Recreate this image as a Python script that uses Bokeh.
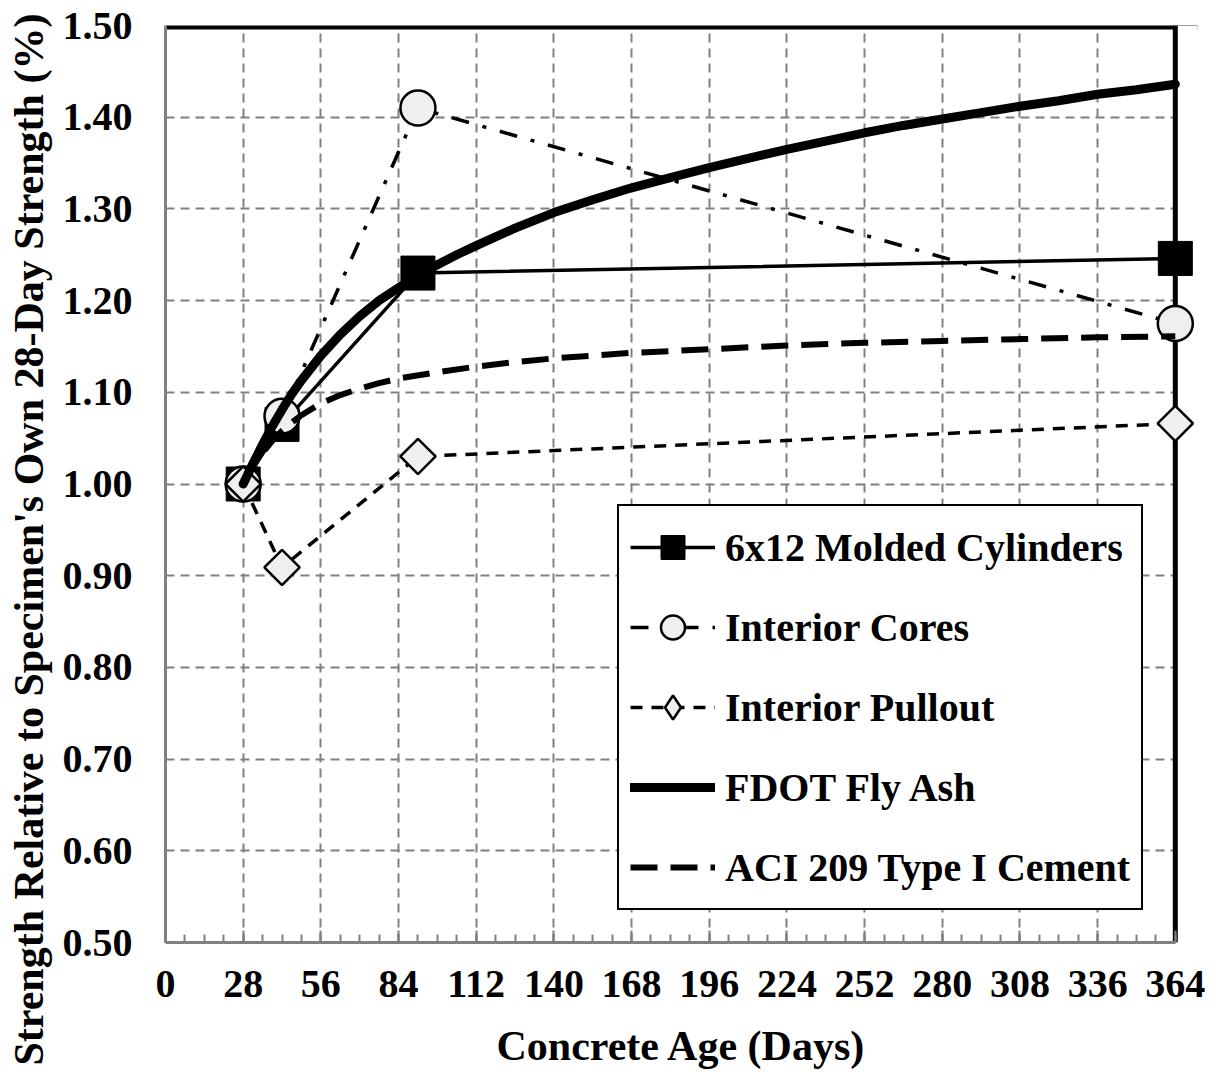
from math import pi
from bokeh.plotting import figure
from bokeh.models import (Range1d, FixedTicker, NumeralTickFormatter, Legend,
                          LegendItem, Span, BoxAnnotation, Title)
from bokeh.embed import file_html
from bokeh.resources import INLINE

# ---- data ----
cyl_days = [28, 42, 91, 364]
cyl_vals = [1.00, 1.065, 1.230, 1.246]

core_days = [28, 42, 91, 364]
core_vals = [1.00, 1.074, 1.410, 1.175]

pull_days = [28, 42, 91, 364]
pull_vals = [1.00, 0.909, 1.030, 1.066]

fdot_days = [28, 31.5, 35, 38.5, 42, 45.5, 49, 56, 63, 70, 77, 84, 91, 98, 105, 112, 126,
             140, 154, 168, 182, 196, 210, 224, 238, 252, 266, 280, 294, 308, 322, 336, 350, 364]
fdot_vals = [1.000, 1.022, 1.043, 1.063, 1.081, 1.098, 1.113, 1.140, 1.163, 1.183, 1.200,
             1.214, 1.227, 1.239, 1.250, 1.260, 1.279, 1.296, 1.310, 1.323, 1.334, 1.345,
             1.355, 1.365, 1.374, 1.383, 1.391, 1.398, 1.405, 1.412, 1.418, 1.425, 1.430, 1.436]

aci_days = [28, 31.5, 35, 38.5, 42, 45.5, 49, 56, 63, 70, 77, 84, 98, 112, 126, 140, 168,
            196, 224, 252, 280, 308, 336, 364]
aci_vals = [1.000, 1.019, 1.034, 1.047, 1.058, 1.067, 1.075, 1.088, 1.097, 1.104, 1.110,
            1.115, 1.122, 1.128, 1.133, 1.137, 1.143, 1.147, 1.151, 1.154, 1.156, 1.158,
            1.160, 1.161]

x_ticks = [0, 28, 56, 84, 112, 140, 168, 196, 224, 252, 280, 308, 336, 364]
x_minor = list(range(0, 365, 7))
y_ticks = [0.50, 0.60, 0.70, 0.80, 0.90, 1.00, 1.10, 1.20, 1.30, 1.40, 1.50]

labels = ["6x12 Molded Cylinders", "Interior Cores", "Interior Pullout",
          "FDOT Fly Ash", "ACI 209 Type I Cement"]
x_title = "Concrete Age (Days)"
y_title = "Strength Relative to Specimen's Own 28-Day Strength (%)"

FONT = "Liberation Serif"
GRID = "#808080"
MFILL = "#efefef"
X_END = 364

# a little room right of day 364 so the last markers are not cut
p = figure(width=1217, height=1078,
           x_range=Range1d(0, 372), y_range=Range1d(0.5, 1.5),
           output_backend="svg", toolbar_location=None,
           min_border_left=165, min_border_right=20,
           min_border_top=25, min_border_bottom=136)
p.outline_line_color = None
p.background_fill_color = "white"
p.border_fill_color = "white"

# x axis
xa = p.xaxis[0]
xa.bounds = (0, X_END)
xa.ticker = FixedTicker(ticks=x_ticks, minor_ticks=x_minor)
xa.axis_line_color = GRID
xa.axis_line_width = 3
xa.major_tick_in = 12
xa.major_tick_out = 0
xa.minor_tick_in = 8
xa.minor_tick_out = 0
xa.major_tick_line_color = GRID
xa.major_tick_line_width = 2
xa.minor_tick_line_color = GRID
xa.minor_tick_line_width = 2
xa.major_label_text_font = FONT
xa.major_label_text_font_style = "bold"
xa.major_label_text_font_size = "40px"
xa.major_label_text_color = "black"
xa.major_label_standoff = 28
xa.axis_label = x_title
xa.axis_label_text_font = FONT
xa.axis_label_text_font_style = "bold"
xa.axis_label_text_font_size = "42px"
xa.axis_label_text_color = "black"
xa.axis_label_standoff = 23

# y axis
ya = p.yaxis[0]
ya.ticker = FixedTicker(ticks=y_ticks, minor_ticks=[])
ya.formatter = NumeralTickFormatter(format="0.00")
ya.axis_line_color = GRID
ya.axis_line_width = 3
ya.major_tick_in = 0
ya.major_tick_out = 0
ya.minor_tick_in = 0
ya.minor_tick_out = 0
ya.major_label_text_font = FONT
ya.major_label_text_font_style = "bold"
ya.major_label_text_font_size = "40px"
ya.major_label_text_color = "black"
ya.major_label_standoff = 33

# grids
for g in (p.xgrid[0], p.ygrid[0]):
    g.grid_line_color = GRID
    g.grid_line_width = 2
    g.grid_line_dash = "9 6"

# top border, white cover right of day 364, then right border
p.add_layout(Span(location=p.y_range.end, dimension="width", line_color="black",
                  line_width=8, level="underlay"))
p.add_layout(BoxAnnotation(left=X_END, fill_color="white", fill_alpha=1.0,
                           line_alpha=0, level="underlay"))
p.add_layout(Span(location=X_END, dimension="height", line_color="black",
                  line_width=5, level="underlay"))

# series lines
l_cyl = p.line(cyl_days, cyl_vals, line_color="black", line_width=3.5)
l_core = p.line(core_days, core_vals, line_color="black", line_width=3.5,
                line_dash="18 14 4 14")
l_pull = p.line(pull_days, pull_vals, line_color="black", line_width=3.5,
                line_dash="12 9")

# markers
s_cyl = p.scatter(cyl_days, cyl_vals, marker="square", size=34,
                  fill_color="black", line_color="black", line_width=1)
s_core = p.scatter(core_days, core_vals, marker="circle", size=35,
                   fill_color=MFILL, line_color="black", line_width=2.5)
s_pull = p.scatter(pull_days, pull_vals, marker="square", size=25, angle=pi / 4,
                   fill_color=MFILL, line_color="black", line_width=2.5)
# legend-only diamond (legend glyphs are drawn unrotated)
s_pull_leg = p.scatter(pull_days, pull_vals, marker="diamond", size=30,
                       fill_color=MFILL, line_color="black", line_width=2.5,
                       visible=False)

# model curves
l_fdot = p.line(fdot_days, fdot_vals, line_color="black", line_width=9,
                line_cap="round", line_join="round")
l_aci = p.line(aci_days, aci_vals, line_color="black", line_width=6,
               line_dash="27 13")

legend = Legend(items=[
    LegendItem(label=labels[0], renderers=[l_cyl, s_cyl]),
    LegendItem(label=labels[1], renderers=[l_core, s_core]),
    LegendItem(label=labels[2], renderers=[l_pull, s_pull_leg]),
    LegendItem(label=labels[3], renderers=[l_fdot]),
    LegendItem(label=labels[4], renderers=[l_aci]),
], location=(452, 32))
legend.label_text_font = FONT
legend.label_text_font_style = "bold"
legend.label_text_font_size = "40px"
legend.label_text_color = "black"
legend.glyph_width = 85
legend.glyph_height = 60
legend.label_height = 60
legend.spacing = 20
legend.padding = 11
legend.margin = 0
legend.label_standoff = 10
legend.border_line_color = "black"
legend.border_line_alpha = 1.0
legend.border_line_width = 2.5
legend.background_fill_color = "white"
legend.background_fill_alpha = 1.0
p.add_layout(legend)

# vertical axis title
p.add_layout(Title(text=y_title, align="left", offset=-123, standoff=11,
                   vertical_align="top",
                   text_font=FONT, text_font_style="bold",
                   text_font_size="42px", text_color="black"), "left")

open("out.html", "w").write(file_html(p, INLINE))
